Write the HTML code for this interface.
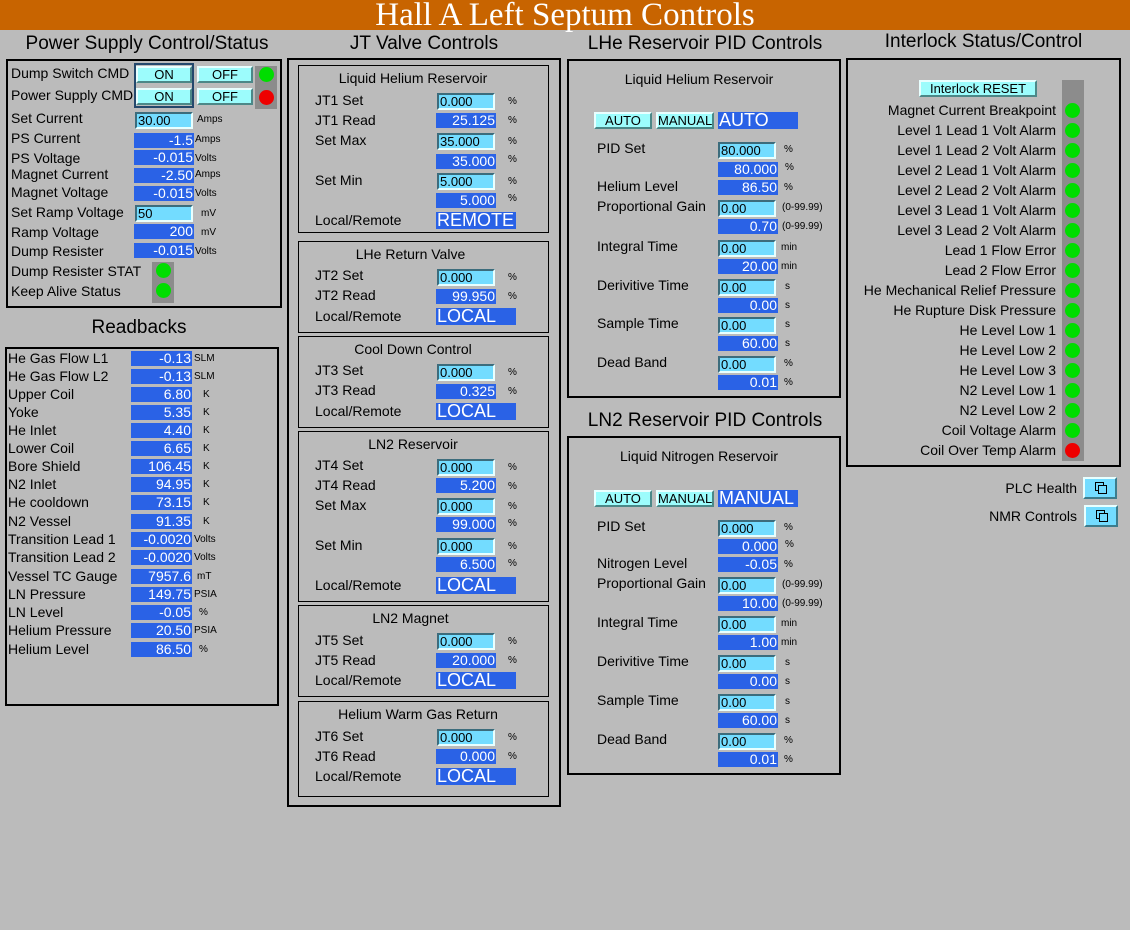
<!DOCTYPE html><html><head><meta charset="utf-8"><style>
body{margin:0;width:1130px;height:930px;background:#bbbbbb;position:relative;overflow:hidden;font-family:"Liberation Sans",sans-serif}
div{position:absolute;box-sizing:border-box;white-space:nowrap}
.t{font-size:14px;line-height:16px;color:#000}
.h{font-size:19px;line-height:20px;color:#000;text-align:center}
.bx{border:2px solid #000}
.sb{border:1px solid #000}
.r{background:#2a62e6;color:#fff;text-align:right;font-size:14px;line-height:15px;height:15px;padding-right:1px}
.i{background:#73dcff;color:#000;font-size:13px;line-height:13px;height:17px;border-top:2px solid #3c6c7c;border-left:2px solid #3c6c7c;border-bottom:2px solid #e8ffff;border-right:2px solid #e8ffff;padding-left:1px}
.u{font-size:10px;line-height:12px;color:#000}
.b{background:#9cfcfc;color:#000;font-size:13px;line-height:13px;text-align:center;border-top:2px solid #e8ffff;border-left:2px solid #e8ffff;border-bottom:2px solid #4c8888;border-right:2px solid #4c8888;height:17px}
.big{background:#2a62e6;color:#fff;font-size:18px;line-height:17px;height:17px;padding-left:1px}
.led{width:15px;height:15px;border-radius:50%;background:#00dd00}
.red{background:#ee0000}
.g{background:#8c8c8c}
</style></head><body>
<div style="left:0;top:0;width:1130px;height:30px;background:#c86400"></div>
<div style="left:0;top:-1px;width:1130px;height:30px;color:#fff;font:33px/32px 'Liberation Serif',serif;text-align:center">Hall A Left Septum Controls</div>

<!-- Power supply -->
<div class="h" style="left:6px;top:34px;width:282px">Power Supply Control/Status</div>
<div class="bx" style="left:6px;top:59px;width:276px;height:249px"></div>
<div class="t" style="left:11px;top:65px">Dump Switch CMD</div>
<div class="t" style="left:11px;top:87px">Power Supply CMD</div>
<div style="left:134px;top:63px;width:60px;height:45px;border:2px solid #24486c"></div>
<div class="b" style="left:136px;top:66px;width:56px">ON</div>
<div class="b" style="left:136px;top:88px;width:56px">ON</div>
<div class="b" style="left:197px;top:66px;width:56px">OFF</div>
<div class="b" style="left:197px;top:88px;width:56px">OFF</div>
<div class="g" style="left:255px;top:66px;width:22px;height:43px"></div>
<div class="led" style="left:259px;top:67px"></div>
<div class="led red" style="left:259px;top:90px"></div>
<div class="t" style="left:11px;top:110px">Set Current</div>
<div class="i" style="left:135px;top:112px;width:58px">30.00</div><div class="u" style="left:197px;top:114px">Amps</div>
<div class="t" style="left:11px;top:130px">PS Current</div>
<div class="r" style="left:134px;top:133px;width:60px">-1.5</div><div class="u" style="left:195px;top:134px">Amps</div>
<div class="t" style="left:11px;top:150px">PS Voltage</div>
<div class="r" style="left:134px;top:150px;width:60px">-0.015</div><div class="u" style="left:195px;top:153px">Volts</div>
<div class="t" style="left:11px;top:166px">Magnet Current</div>
<div class="r" style="left:134px;top:168px;width:60px">-2.50</div><div class="u" style="left:195px;top:169px">Amps</div>
<div class="t" style="left:11px;top:184px">Magnet Voltage</div>
<div class="r" style="left:134px;top:186px;width:60px">-0.015</div><div class="u" style="left:195px;top:188px">Volts</div>
<div class="t" style="left:11px;top:204px">Set Ramp Voltage</div>
<div class="i" style="left:135px;top:205px;width:58px">50</div><div class="u" style="left:201px;top:208px">mV</div>
<div class="t" style="left:11px;top:224px">Ramp Voltage</div>
<div class="r" style="left:134px;top:224px;width:60px">200</div><div class="u" style="left:201px;top:227px">mV</div>
<div class="t" style="left:11px;top:243px">Dump Resister</div>
<div class="r" style="left:134px;top:243px;width:60px">-0.015</div><div class="u" style="left:195px;top:246px">Volts</div>
<div class="t" style="left:11px;top:263px">Dump Resister STAT</div>
<div class="t" style="left:11px;top:283px">Keep Alive Status</div>
<div class="g" style="left:152px;top:262px;width:22px;height:41px"></div>
<div class="led" style="left:156px;top:263px"></div>
<div class="led" style="left:156px;top:283px"></div>

<!-- Readbacks -->
<div class="h" style="left:0;top:318px;width:278px">Readbacks</div>
<div class="bx" style="left:5px;top:347px;width:274px;height:359px"></div>
<div class="t" style="left:8px;top:350px">He Gas Flow L1</div><div class="r" style="left:131px;top:351px;width:61px">-0.13</div><div class="u" style="left:194px;top:353px">SLM</div>
<div class="t" style="left:8px;top:368px">He Gas Flow L2</div><div class="r" style="left:131px;top:369px;width:61px">-0.13</div><div class="u" style="left:194px;top:371px">SLM</div>
<div class="t" style="left:8px;top:386px">Upper Coil</div><div class="r" style="left:131px;top:387px;width:61px">6.80</div><div class="u" style="left:203px;top:389px">K</div>
<div class="t" style="left:8px;top:404px">Yoke</div><div class="r" style="left:131px;top:405px;width:61px">5.35</div><div class="u" style="left:203px;top:407px">K</div>
<div class="t" style="left:8px;top:422px">He Inlet</div><div class="r" style="left:131px;top:423px;width:61px">4.40</div><div class="u" style="left:203px;top:425px">K</div>
<div class="t" style="left:8px;top:440px">Lower Coil</div><div class="r" style="left:131px;top:441px;width:61px">6.65</div><div class="u" style="left:203px;top:443px">K</div>
<div class="t" style="left:8px;top:458px">Bore Shield</div><div class="r" style="left:131px;top:459px;width:61px">106.45</div><div class="u" style="left:203px;top:461px">K</div>
<div class="t" style="left:8px;top:476px">N2 Inlet</div><div class="r" style="left:131px;top:477px;width:61px">94.95</div><div class="u" style="left:203px;top:479px">K</div>
<div class="t" style="left:8px;top:494px">He cooldown</div><div class="r" style="left:131px;top:495px;width:61px">73.15</div><div class="u" style="left:203px;top:497px">K</div>
<div class="t" style="left:8px;top:513px">N2 Vessel</div><div class="r" style="left:131px;top:514px;width:61px">91.35</div><div class="u" style="left:203px;top:516px">K</div>
<div class="t" style="left:8px;top:531px">Transition Lead 1</div><div class="r" style="left:131px;top:532px;width:61px">-0.0020</div><div class="u" style="left:194px;top:534px">Volts</div>
<div class="t" style="left:8px;top:549px">Transition Lead 2</div><div class="r" style="left:131px;top:550px;width:61px">-0.0020</div><div class="u" style="left:194px;top:552px">Volts</div>
<div class="t" style="left:8px;top:568px">Vessel TC Gauge</div><div class="r" style="left:131px;top:569px;width:61px">7957.6</div><div class="u" style="left:197px;top:571px">mT</div>
<div class="t" style="left:8px;top:586px">LN Pressure</div><div class="r" style="left:131px;top:587px;width:61px">149.75</div><div class="u" style="left:194px;top:589px">PSIA</div>
<div class="t" style="left:8px;top:604px">LN Level</div><div class="r" style="left:131px;top:605px;width:61px">-0.05</div><div class="u" style="left:199px;top:607px">%</div>
<div class="t" style="left:8px;top:622px">Helium Pressure</div><div class="r" style="left:131px;top:623px;width:61px">20.50</div><div class="u" style="left:194px;top:625px">PSIA</div>
<div class="t" style="left:8px;top:641px">Helium Level</div><div class="r" style="left:131px;top:642px;width:61px">86.50</div><div class="u" style="left:199px;top:644px">%</div>

<!-- JT Valve -->
<div class="h" style="left:287px;top:34px;width:274px">JT Valve Controls</div>
<div class="bx" style="left:287px;top:58px;width:274px;height:749px"></div>
<div class="sb" style="left:298px;top:65px;width:251px;height:168px"></div>
<div class="t" style="left:298px;top:70px;width:230px;text-align:center">Liquid Helium Reservoir</div>
<div class="t" style="left:315px;top:92px">JT1 Set</div><div class="i" style="left:437px;top:93px;width:58px">0.000</div><div class="u" style="left:508px;top:96px">%</div>
<div class="t" style="left:315px;top:112px">JT1 Read</div><div class="r" style="left:436px;top:113px;width:60px">25.125</div><div class="u" style="left:508px;top:115px">%</div>
<div class="t" style="left:315px;top:132px">Set Max</div><div class="i" style="left:437px;top:133px;width:58px">35.000</div><div class="u" style="left:508px;top:136px">%</div>
<div class="r" style="left:436px;top:154px;width:60px">35.000</div><div class="u" style="left:508px;top:154px">%</div>
<div class="t" style="left:315px;top:172px">Set Min</div><div class="i" style="left:437px;top:173px;width:58px">5.000</div><div class="u" style="left:508px;top:176px">%</div>
<div class="r" style="left:436px;top:193px;width:60px">5.000</div><div class="u" style="left:508px;top:193px">%</div>
<div class="t" style="left:315px;top:212px">Local/Remote</div><div class="big" style="left:436px;top:212px;width:80px">REMOTE</div>

<div class="sb" style="left:298px;top:241px;width:251px;height:92px"></div>
<div class="t" style="left:298px;top:246px;width:225px;text-align:center">LHe Return Valve</div>
<div class="t" style="left:315px;top:267px">JT2 Set</div><div class="i" style="left:437px;top:269px;width:58px">0.000</div><div class="u" style="left:508px;top:272px">%</div>
<div class="t" style="left:315px;top:287px">JT2 Read</div><div class="r" style="left:436px;top:289px;width:60px">99.950</div><div class="u" style="left:508px;top:291px">%</div>
<div class="t" style="left:315px;top:308px">Local/Remote</div><div class="big" style="left:436px;top:308px;width:80px">LOCAL</div>

<div class="sb" style="left:298px;top:336px;width:251px;height:92px"></div>
<div class="t" style="left:298px;top:341px;width:230px;text-align:center">Cool Down Control</div>
<div class="t" style="left:315px;top:362px">JT3 Set</div><div class="i" style="left:437px;top:364px;width:58px">0.000</div><div class="u" style="left:508px;top:367px">%</div>
<div class="t" style="left:315px;top:382px">JT3 Read</div><div class="r" style="left:436px;top:384px;width:60px">0.325</div><div class="u" style="left:508px;top:386px">%</div>
<div class="t" style="left:315px;top:403px">Local/Remote</div><div class="big" style="left:436px;top:403px;width:80px">LOCAL</div>

<div class="sb" style="left:298px;top:431px;width:251px;height:171px"></div>
<div class="t" style="left:298px;top:436px;width:230px;text-align:center">LN2 Reservoir</div>
<div class="t" style="left:315px;top:457px">JT4 Set</div><div class="i" style="left:437px;top:459px;width:58px">0.000</div><div class="u" style="left:508px;top:462px">%</div>
<div class="t" style="left:315px;top:477px">JT4 Read</div><div class="r" style="left:436px;top:478px;width:60px">5.200</div><div class="u" style="left:508px;top:481px">%</div>
<div class="t" style="left:315px;top:497px">Set Max</div><div class="i" style="left:437px;top:498px;width:58px">0.000</div><div class="u" style="left:508px;top:501px">%</div>
<div class="r" style="left:436px;top:517px;width:60px">99.000</div><div class="u" style="left:508px;top:518px">%</div>
<div class="t" style="left:315px;top:537px">Set Min</div><div class="i" style="left:437px;top:538px;width:58px">0.000</div><div class="u" style="left:508px;top:541px">%</div>
<div class="r" style="left:436px;top:557px;width:60px">6.500</div><div class="u" style="left:508px;top:558px">%</div>
<div class="t" style="left:315px;top:577px">Local/Remote</div><div class="big" style="left:436px;top:577px;width:80px">LOCAL</div>

<div class="sb" style="left:298px;top:605px;width:251px;height:92px"></div>
<div class="t" style="left:298px;top:610px;width:225px;text-align:center">LN2 Magnet</div>
<div class="t" style="left:315px;top:632px">JT5 Set</div><div class="i" style="left:437px;top:633px;width:58px">0.000</div><div class="u" style="left:508px;top:636px">%</div>
<div class="t" style="left:315px;top:652px">JT5 Read</div><div class="r" style="left:436px;top:653px;width:60px">20.000</div><div class="u" style="left:508px;top:655px">%</div>
<div class="t" style="left:315px;top:672px">Local/Remote</div><div class="big" style="left:436px;top:672px;width:80px">LOCAL</div>

<div class="sb" style="left:298px;top:701px;width:251px;height:96px"></div>
<div class="t" style="left:298px;top:706px;width:240px;text-align:center">Helium Warm Gas Return</div>
<div class="t" style="left:315px;top:728px">JT6 Set</div><div class="i" style="left:437px;top:729px;width:58px">0.000</div><div class="u" style="left:508px;top:732px">%</div>
<div class="t" style="left:315px;top:748px">JT6 Read</div><div class="r" style="left:436px;top:749px;width:60px">0.000</div><div class="u" style="left:508px;top:751px">%</div>
<div class="t" style="left:315px;top:768px">Local/Remote</div><div class="big" style="left:436px;top:768px;width:80px">LOCAL</div>

<!-- LHe PID -->
<div class="h" style="left:567px;top:34px;width:276px">LHe Reservoir PID Controls</div>
<div class="bx" style="left:567px;top:59px;width:274px;height:339px"></div>
<div class="t" style="left:567px;top:71px;width:264px;text-align:center">Liquid Helium Reservoir</div>
<div class="b" style="left:594px;top:112px;width:58px">AUTO</div>
<div class="b" style="left:656px;top:112px;width:58px">MANUAL</div>
<div class="big" style="left:718px;top:112px;width:80px">AUTO</div>
<div class="t" style="left:597px;top:140px">PID Set</div><div class="i" style="left:718px;top:142px;width:58px">80.000</div><div class="u" style="left:784px;top:144px">%</div>
<div class="r" style="left:718px;top:162px;width:60px">80.000</div><div class="u" style="left:785px;top:162px">%</div>
<div class="t" style="left:597px;top:178px">Helium Level</div><div class="r" style="left:718px;top:180px;width:60px">86.50</div><div class="u" style="left:784px;top:182px">%</div>
<div class="t" style="left:597px;top:198px">Proportional Gain</div><div class="i" style="left:718px;top:200px;width:58px">0.00</div><div class="u" style="left:782px;top:202px">(0-99.99)</div>
<div class="r" style="left:718px;top:219px;width:60px">0.70</div><div class="u" style="left:782px;top:221px">(0-99.99)</div>
<div class="t" style="left:597px;top:238px">Integral Time</div><div class="i" style="left:718px;top:240px;width:58px">0.00</div><div class="u" style="left:781px;top:242px">min</div>
<div class="r" style="left:718px;top:259px;width:60px">20.00</div><div class="u" style="left:781px;top:261px">min</div>
<div class="t" style="left:597px;top:277px">Derivitive Time</div><div class="i" style="left:718px;top:279px;width:58px">0.00</div><div class="u" style="left:785px;top:281px">s</div>
<div class="r" style="left:718px;top:298px;width:60px">0.00</div><div class="u" style="left:785px;top:300px">s</div>
<div class="t" style="left:597px;top:315px">Sample Time</div><div class="i" style="left:718px;top:317px;width:58px">0.00</div><div class="u" style="left:785px;top:319px">s</div>
<div class="r" style="left:718px;top:336px;width:60px">60.00</div><div class="u" style="left:785px;top:338px">s</div>
<div class="t" style="left:597px;top:354px">Dead Band</div><div class="i" style="left:718px;top:356px;width:58px">0.00</div><div class="u" style="left:784px;top:358px">%</div>
<div class="r" style="left:718px;top:375px;width:60px">0.01</div><div class="u" style="left:784px;top:377px">%</div>

<!-- LN2 PID -->
<div class="h" style="left:567px;top:411px;width:276px">LN2 Reservoir PID Controls</div>
<div class="bx" style="left:567px;top:436px;width:274px;height:339px"></div>
<div class="t" style="left:567px;top:448px;width:264px;text-align:center">Liquid Nitrogen Reservoir</div>
<div class="b" style="left:594px;top:490px;width:58px">AUTO</div>
<div class="b" style="left:656px;top:490px;width:58px">MANUAL</div>
<div class="big" style="left:718px;top:490px;width:80px">MANUAL</div>
<div class="t" style="left:597px;top:518px">PID Set</div><div class="i" style="left:718px;top:520px;width:58px">0.000</div><div class="u" style="left:784px;top:522px">%</div>
<div class="r" style="left:718px;top:539px;width:60px">0.000</div><div class="u" style="left:785px;top:539px">%</div>
<div class="t" style="left:597px;top:555px">Nitrogen Level</div><div class="r" style="left:718px;top:557px;width:60px">-0.05</div><div class="u" style="left:784px;top:559px">%</div>
<div class="t" style="left:597px;top:575px">Proportional Gain</div><div class="i" style="left:718px;top:577px;width:58px">0.00</div><div class="u" style="left:782px;top:579px">(0-99.99)</div>
<div class="r" style="left:718px;top:596px;width:60px">10.00</div><div class="u" style="left:782px;top:598px">(0-99.99)</div>
<div class="t" style="left:597px;top:614px">Integral Time</div><div class="i" style="left:718px;top:616px;width:58px">0.00</div><div class="u" style="left:781px;top:618px">min</div>
<div class="r" style="left:718px;top:635px;width:60px">1.00</div><div class="u" style="left:781px;top:637px">min</div>
<div class="t" style="left:597px;top:653px">Derivitive Time</div><div class="i" style="left:718px;top:655px;width:58px">0.00</div><div class="u" style="left:785px;top:657px">s</div>
<div class="r" style="left:718px;top:674px;width:60px">0.00</div><div class="u" style="left:785px;top:676px">s</div>
<div class="t" style="left:597px;top:692px">Sample Time</div><div class="i" style="left:718px;top:694px;width:58px">0.00</div><div class="u" style="left:785px;top:696px">s</div>
<div class="r" style="left:718px;top:713px;width:60px">60.00</div><div class="u" style="left:785px;top:715px">s</div>
<div class="t" style="left:597px;top:731px">Dead Band</div><div class="i" style="left:718px;top:733px;width:58px">0.00</div><div class="u" style="left:784px;top:735px">%</div>
<div class="r" style="left:718px;top:752px;width:60px">0.01</div><div class="u" style="left:784px;top:754px">%</div>

<!-- Interlock -->
<div class="h" style="left:846px;top:32px;width:275px">Interlock Status/Control</div>
<div class="bx" style="left:846px;top:58px;width:275px;height:409px"></div>
<div class="b" style="left:919px;top:80px;width:118px">Interlock RESET</div>
<div class="g" style="left:1062px;top:80px;width:22px;height:381px"></div>
<div class="t" style="left:856px;top:102px;width:200px;text-align:right">Magnet Current Breakpoint</div>
<div class="t" style="left:856px;top:122px;width:200px;text-align:right">Level 1 Lead 1 Volt Alarm</div>
<div class="t" style="left:856px;top:142px;width:200px;text-align:right">Level 1 Lead 2 Volt Alarm</div>
<div class="t" style="left:856px;top:162px;width:200px;text-align:right">Level 2 Lead 1 Volt Alarm</div>
<div class="t" style="left:856px;top:182px;width:200px;text-align:right">Level 2 Lead 2 Volt Alarm</div>
<div class="t" style="left:856px;top:202px;width:200px;text-align:right">Level 3 Lead 1 Volt Alarm</div>
<div class="t" style="left:856px;top:222px;width:200px;text-align:right">Level 3 Lead 2 Volt Alarm</div>
<div class="t" style="left:856px;top:242px;width:200px;text-align:right">Lead 1 Flow Error</div>
<div class="t" style="left:856px;top:262px;width:200px;text-align:right">Lead 2 Flow Error</div>
<div class="t" style="left:846px;top:282px;width:210px;text-align:right">He Mechanical Relief Pressure</div>
<div class="t" style="left:856px;top:302px;width:200px;text-align:right">He Rupture Disk Pressure</div>
<div class="t" style="left:856px;top:322px;width:200px;text-align:right">He Level Low 1</div>
<div class="t" style="left:856px;top:342px;width:200px;text-align:right">He Level Low 2</div>
<div class="t" style="left:856px;top:362px;width:200px;text-align:right">He Level Low 3</div>
<div class="t" style="left:856px;top:382px;width:200px;text-align:right">N2 Level Low 1</div>
<div class="t" style="left:856px;top:402px;width:200px;text-align:right">N2 Level Low 2</div>
<div class="t" style="left:856px;top:422px;width:200px;text-align:right">Coil Voltage Alarm</div>
<div class="t" style="left:856px;top:442px;width:200px;text-align:right">Coil Over Temp Alarm</div>
<div class="led" style="left:1065px;top:103px"></div>
<div class="led" style="left:1065px;top:123px"></div>
<div class="led" style="left:1065px;top:143px"></div>
<div class="led" style="left:1065px;top:163px"></div>
<div class="led" style="left:1065px;top:183px"></div>
<div class="led" style="left:1065px;top:203px"></div>
<div class="led" style="left:1065px;top:223px"></div>
<div class="led" style="left:1065px;top:243px"></div>
<div class="led" style="left:1065px;top:263px"></div>
<div class="led" style="left:1065px;top:283px"></div>
<div class="led" style="left:1065px;top:303px"></div>
<div class="led" style="left:1065px;top:323px"></div>
<div class="led" style="left:1065px;top:343px"></div>
<div class="led" style="left:1065px;top:363px"></div>
<div class="led" style="left:1065px;top:383px"></div>
<div class="led" style="left:1065px;top:403px"></div>
<div class="led" style="left:1065px;top:423px"></div>
<div class="led red" style="left:1065px;top:443px"></div>

<div class="t" style="left:960px;top:480px;width:117px;text-align:right">PLC Health</div>
<div class="t" style="left:960px;top:508px;width:117px;text-align:right">NMR Controls</div>
<div style="left:1083px;top:477px;width:34px;height:22px;background:#73dcff;border-top:2px solid #e8ffff;border-left:2px solid #e8ffff;border-bottom:2px solid #3c7c8c;border-right:2px solid #3c7c8c"><div style="left:10px;top:3px;width:9px;height:9px;border:1px solid #000"></div><div style="left:13px;top:6px;width:9px;height:9px;border:1px solid #000;background:#73dcff"></div></div>
<div style="left:1084px;top:505px;width:34px;height:22px;background:#73dcff;border-top:2px solid #e8ffff;border-left:2px solid #e8ffff;border-bottom:2px solid #3c7c8c;border-right:2px solid #3c7c8c"><div style="left:10px;top:3px;width:9px;height:9px;border:1px solid #000"></div><div style="left:13px;top:6px;width:9px;height:9px;border:1px solid #000;background:#73dcff"></div></div>
</body></html>
